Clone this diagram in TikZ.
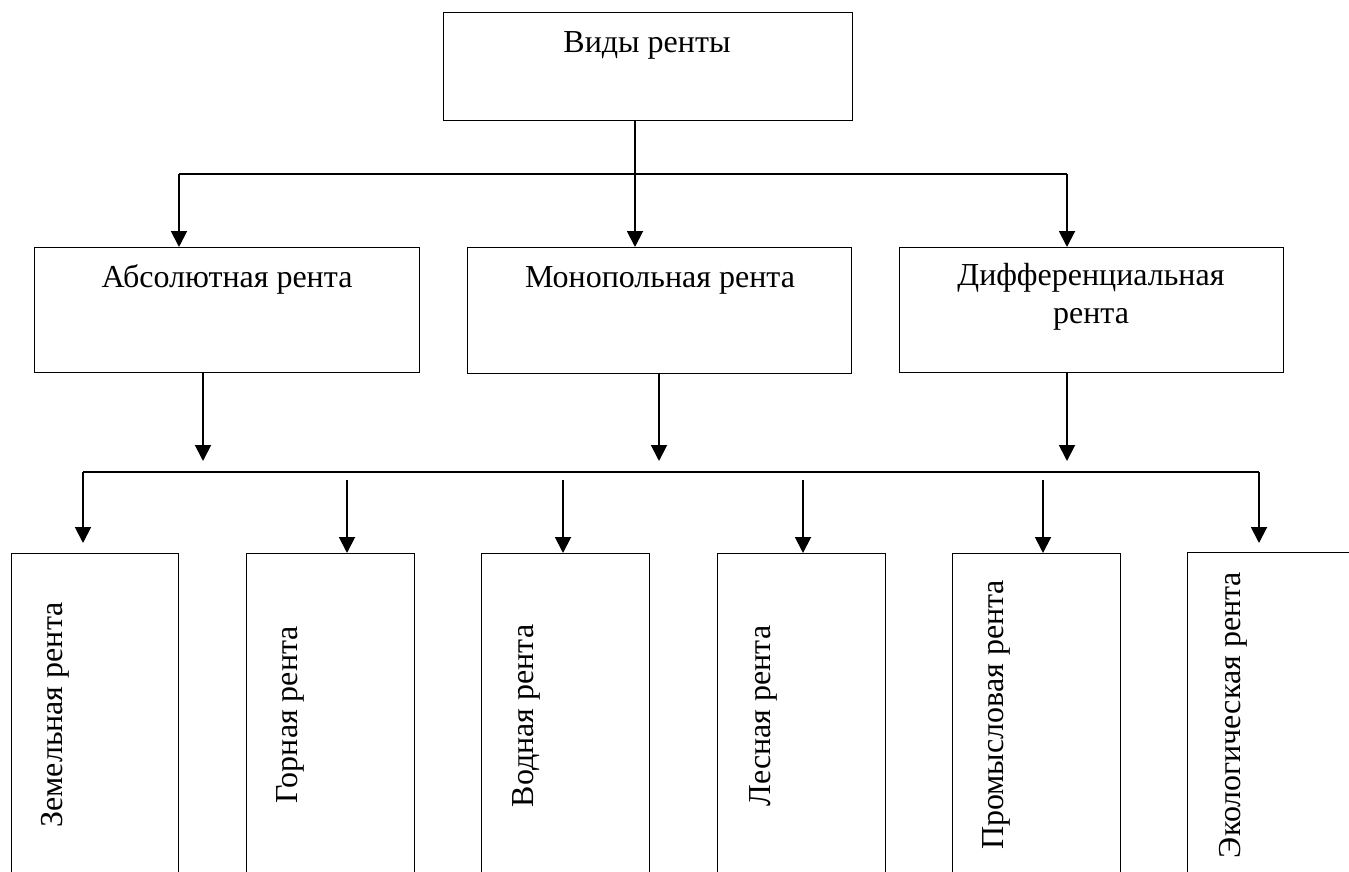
\documentclass[tikz,border=0pt]{standalone}
\usepackage{fontspec}
\setmainfont{Liberation Serif}
\usetikzlibrary{arrows.meta}
\tikzset{
  box/.style={draw, line width=1.3pt, inner sep=0pt, anchor=north west},
  lbl/.style={font=\fontsize{32}{38}\selectfont, inner sep=0pt, anchor=base},
  vlbl/.style={lbl, rotate=90},
  conn/.style={line width=1.9pt},
  arr/.style={conn, -{Triangle[length=16pt,width=16pt]}}
}
\begin{document}
\begin{tikzpicture}[x=1pt,y=-1pt]
\clip (0,0) rectangle (1349,872);
\fill[white] (0,0) rectangle (1349,872);
% boxes
\node[box, minimum width=409pt, minimum height=108pt] (top) at (443,12) {};
\node[box, minimum width=385pt, minimum height=125pt] (abs) at (34,247) {};
\node[box, minimum width=384pt, minimum height=126pt] (mono) at (467,247) {};
\node[box, minimum width=384pt, minimum height=125pt] (diff) at (899,247) {};
\node[box, minimum width=167pt, minimum height=400pt] (zem) at (11,553) {};
\node[box, minimum width=168pt, minimum height=400pt] (gor) at (246,553) {};
\node[box, minimum width=168pt, minimum height=400pt] (vod) at (481,553) {};
\node[box, minimum width=168pt, minimum height=400pt] (les) at (717,553) {};
\node[box, minimum width=168pt, minimum height=400pt] (prom) at (952,553) {};
\node[box, minimum width=168pt, minimum height=400pt] (eko) at (1187,552) {};
% texts
\node[lbl] (ttop) at (647,53) {Виды ренты};
\node[lbl] (tabs) at (227,287) {Абсолютная рента};
\node[lbl] (tmono) at (660,287) {Монопольная рента};
\node[lbl, align=center] (tdiff) at (1091,323) {Дифференциальная\\рента};
\node[vlbl] (tzem) at (62,715) {Земельная рента};
\node[vlbl] (tgor) at (297,715) {Горная рента};
\node[vlbl] (tvod) at (533,716) {Водная рента};
\node[vlbl] (tles) at (770,716) {Лесная рента};
\node[vlbl] (tprom) at (1003,715) {Промысловая рента};
\node[vlbl] (teko) at (1240,715) {Экологическая рента};
% coordinates
\coordinate (t1) at (635,0);
\coordinate (h1L) at (179,174);
\coordinate (h1R) at (1067,174);
\coordinate (a1) at (203,461);
\coordinate (a2) at (659,461);
\coordinate (a3) at (1067,461);
\coordinate (b1) at (83,472);
\coordinate (b6) at (1259,472);
\coordinate (e1) at (83,543);
\coordinate (e6) at (1259,543);
\coordinate (s2) at (347,480);
\coordinate (s3) at (563,480);
\coordinate (s4) at (803,480);
\coordinate (s5) at (1043,480);
% connectors
\draw[arr] (top.south -| t1) -- (mono.north -| t1);
\draw[conn] (h1L) -- (h1R);
\draw[arr] (h1L) -- (abs.north -| h1L);
\draw[arr] (h1R) -- (diff.north -| h1R);
\draw[arr] (abs.south -| a1) -- (a1);
\draw[arr] (mono.south -| a2) -- (a2);
\draw[arr] (diff.south -| a3) -- (a3);
\draw[conn] (b1) -- (b6);
\draw[arr] (b1) -- (e1);
\draw[arr] (b6) -- (e6);
\draw[arr] (s2) -- (gor.north -| s2);
\draw[arr] (s3) -- (vod.north -| s3);
\draw[arr] (s4) -- (les.north -| s4);
\draw[arr] (s5) -- (prom.north -| s5);
\end{tikzpicture}
\end{document}
